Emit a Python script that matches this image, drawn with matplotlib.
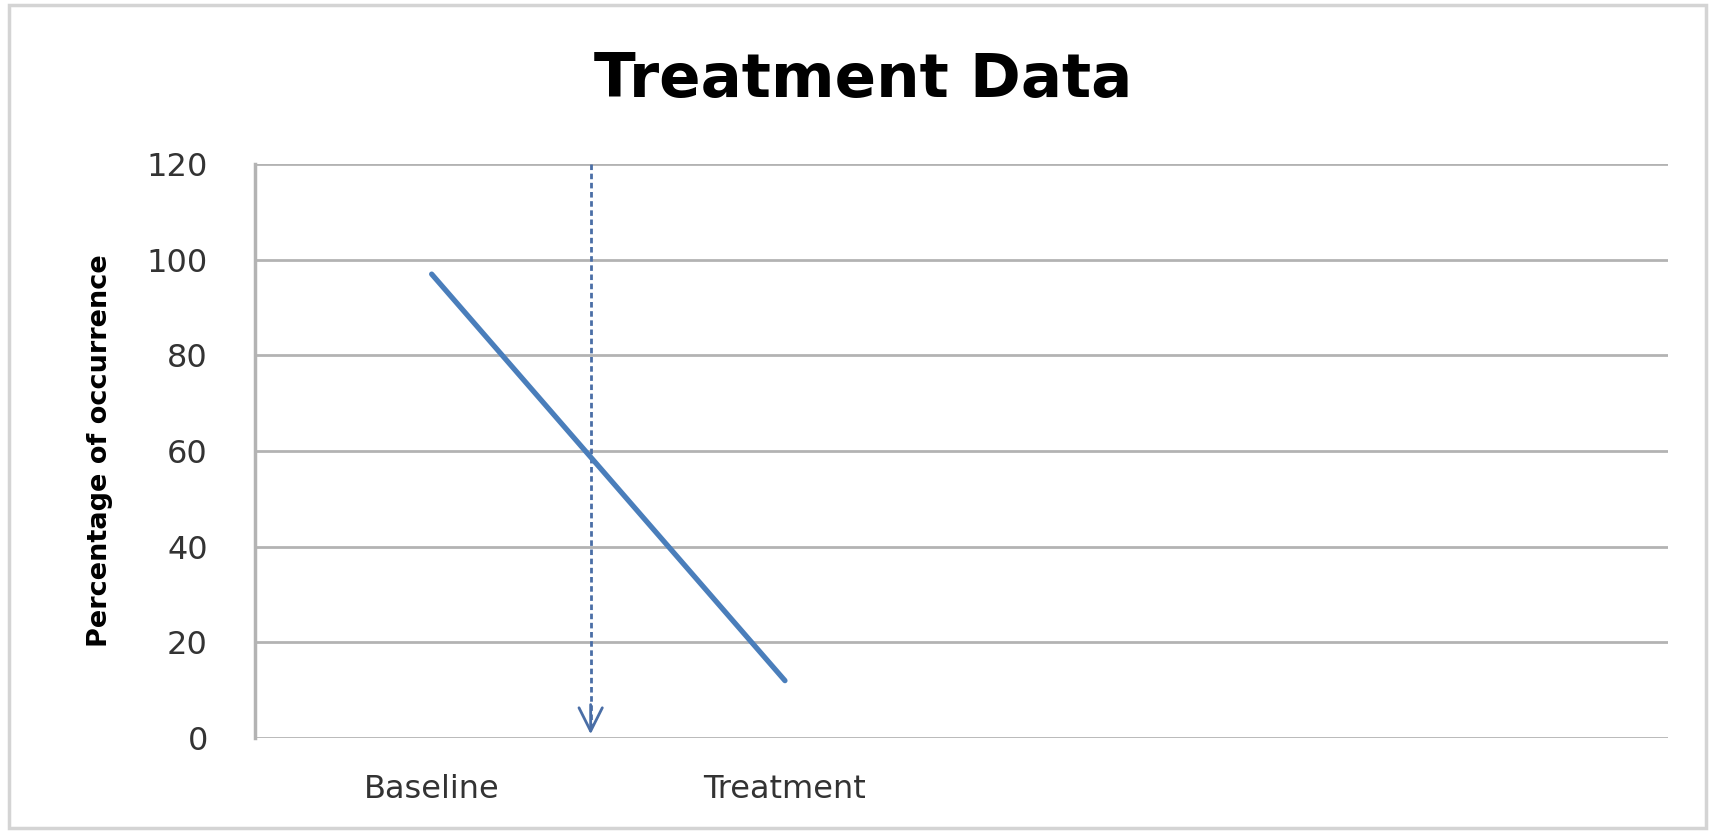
import matplotlib.pyplot as plt
from matplotlib.patches import Rectangle

# Phases along the x axis (two empty slots to the right)
categories = ["Baseline", "Treatment", "", ""]
occurrence = [97, 12]
y_ticks = [0, 20, 40, 60, 80, 100, 120]
phase_change = 0.45  # where the intervention starts

fig = plt.figure(figsize=(17.15, 8.33), dpi=100)
ax = fig.add_axes([0.1487, 0.114, 0.824, 0.689])

# chart frame around the whole figure
fig.patches.append(Rectangle((0.005, 0.006), 0.99, 0.988, transform=fig.transFigure,
                             fill=False, edgecolor="#d4d4d4", lw=2.5))

ax.plot(range(len(occurrence)), occurrence, color="#4a7ebb", lw=3.8,
        solid_capstyle="round", zorder=3)

# dashed phase-change line with open arrow head
ax.plot([phase_change, phase_change], [120, 2.5], color="#4a6ea6", lw=2,
        ls=(0, (2, 1.3)), zorder=2)
ax.annotate("", xy=(phase_change, 0.8), xytext=(phase_change, 7),
            arrowprops=dict(arrowstyle="->", color="#4a6ea6", lw=2,
                            mutation_scale=42, shrinkA=0, shrinkB=0))

ax.set_xlim(-0.5, len(categories) - 0.5)
ax.set_ylim(0, 120)
ax.set_yticks(y_ticks)
ax.set_xticks(range(len(categories)))
ax.set_xticklabels(categories)
ax.tick_params(axis="both", length=0, labelsize=23, labelcolor="#333333")
ax.tick_params(axis="x", pad=26)
ax.tick_params(axis="y", pad=34)

ax.grid(axis="y", color="#b3b3b3", lw=2)
ax.set_axisbelow(True)
for side in ["top", "right", "bottom"]:
    ax.spines[side].set_visible(False)
ax.spines["left"].set_color("#b3b3b3")
ax.spines["left"].set_linewidth(2.5)

ax.set_ylabel("Percentage of occurrence", fontsize=19.5, fontweight="bold",
              labelpad=24)
fig.text(0.503, 0.903, "Treatment Data", ha="center", va="center",
         fontsize=44, fontweight="bold")

fig.savefig("out.png", dpi=100)
